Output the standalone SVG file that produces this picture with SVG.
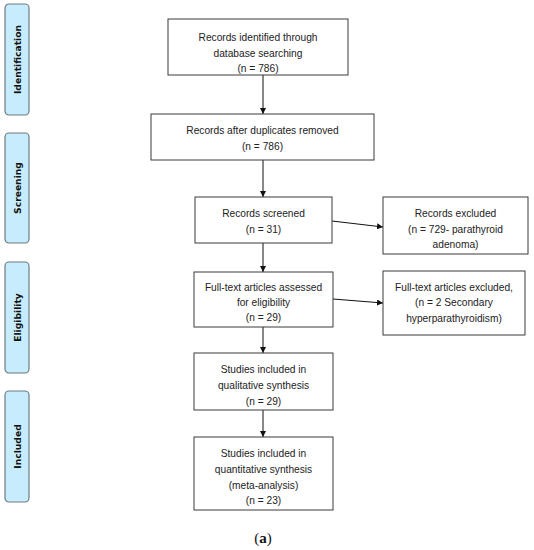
<svg xmlns="http://www.w3.org/2000/svg" width="534" height="550" viewBox="0 0 534 550">
<style>
.box{fill:#fff;stroke:#3a3a3a;stroke-width:1}
.t{font-family:"Liberation Sans",Arial,sans-serif;font-size:10.2px;fill:#222;text-anchor:middle}
.side{fill:#c6ecfd;stroke:#6d7c82;stroke-width:1.2}
.st{font-family:"DejaVu Sans",Verdana,sans-serif;font-weight:bold;font-size:9.2px;fill:#111;text-anchor:middle}
.c{stroke:#111;stroke-width:1;fill:none;marker-end:url(#ah)}
</style>
<defs>
<marker id="ah" viewBox="0 0 10 10" refX="10" refY="5" markerWidth="6" markerHeight="6" markerUnits="userSpaceOnUse" orient="auto">
<path d="M0,0 L10,5 L0,10 z" fill="#111"/>
</marker>
</defs>
<rect width="534" height="550" fill="#fff"/>
<g id="stage-identification">
<rect class="side" x="5" y="4" width="24" height="111" rx="4"/>
<text class="st" transform="translate(20.5,59.5) rotate(-90)">Identification</text>
</g>
<g id="stage-screening">
<rect class="side" x="5" y="133" width="24" height="110" rx="4"/>
<text class="st" transform="translate(20.5,188) rotate(-90)">Screening</text>
</g>
<g id="stage-eligibility">
<rect class="side" x="5" y="262" width="24" height="111" rx="4"/>
<text class="st" transform="translate(20.5,317.5) rotate(-90)">Eligibility</text>
</g>
<g id="stage-included">
<rect class="side" x="5" y="391" width="24" height="111" rx="4"/>
<text class="st" transform="translate(20.5,446.5) rotate(-90)">Included</text>
</g>
<g id="connectors">
<line class="c" x1="263" y1="75" x2="263" y2="114"/>
<line class="c" x1="263" y1="160" x2="263" y2="197"/>
<line class="c" x1="263" y1="243" x2="263" y2="272"/>
<line class="c" x1="263" y1="327" x2="263" y2="353"/>
<line class="c" x1="263" y1="410" x2="263" y2="437"/>
<line class="c" x1="332" y1="221" x2="383" y2="227"/>
<line class="c" x1="333" y1="299" x2="383" y2="303"/>
</g>
<g id="n1">
<rect class="box" x="168" y="19" width="180" height="56"/>
<text class="t" x="258" y="41">Records identified through</text>
<text class="t" x="258" y="56.5">database searching</text>
<text class="t" x="258" y="72">(n = 786)</text>
</g>
<g id="n2">
<rect class="box" x="151" y="114" width="223" height="46"/>
<text class="t" x="262.5" y="134">Records after duplicates removed</text>
<text class="t" x="262.5" y="149.5">(n = 786)</text>
</g>
<g id="n3">
<rect class="box" x="195" y="197" width="137" height="46"/>
<text class="t" x="263.5" y="217">Records screened</text>
<text class="t" x="263.5" y="232.5">(n = 31)</text>
</g>
<g id="n4">
<rect class="box" x="383" y="197" width="145" height="57"/>
<text class="t" x="455.5" y="217">Records excluded</text>
<text class="t" x="455.5" y="232.5">(n = 729- parathyroid</text>
<text class="t" x="455.5" y="248">adenoma)</text>
</g>
<g id="n5">
<rect class="box" x="194" y="272" width="139" height="55"/>
<text class="t" x="263.5" y="291">Full-text articles assessed</text>
<text class="t" x="263.5" y="306">for eligibility</text>
<text class="t" x="263.5" y="321">(n = 29)</text>
</g>
<g id="n6">
<rect class="box" x="383" y="271" width="142" height="64"/>
<text class="t" x="454" y="291">Full-text articles excluded,</text>
<text class="t" x="454" y="306">(n = 2 Secondary</text>
<text class="t" x="454" y="322">hyperparathyroidism)</text>
</g>
<g id="n7">
<rect class="box" x="194" y="353" width="139" height="57"/>
<text class="t" x="263.5" y="373">Studies included in</text>
<text class="t" x="263.5" y="389">qualitative synthesis</text>
<text class="t" x="263.5" y="405">(n = 29)</text>
</g>
<g id="n8">
<rect class="box" x="194" y="437" width="139" height="73"/>
<text class="t" x="263.5" y="457">Studies included in</text>
<text class="t" x="263.5" y="473">quantitative synthesis</text>
<text class="t" x="263.5" y="489">(meta-analysis)</text>
<text class="t" x="263.5" y="504">(n = 23)</text>
</g>
<text x="263" y="543" font-family="'Liberation Serif','Times New Roman',serif" font-size="15" text-anchor="middle" fill="#111">(<tspan font-weight="bold">a</tspan>)</text>
</svg>
